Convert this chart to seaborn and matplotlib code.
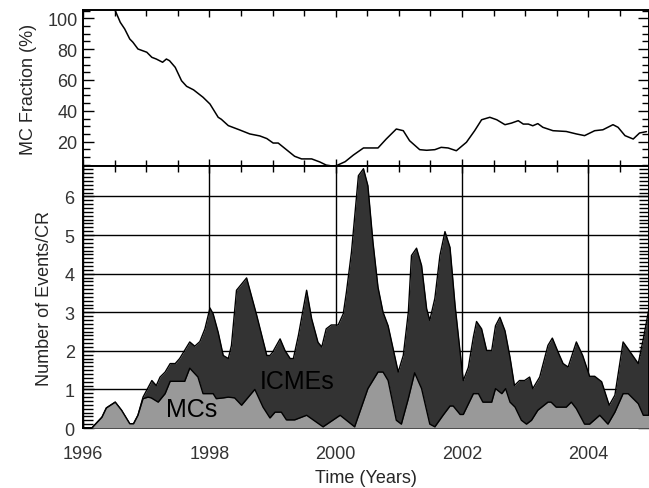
import numpy as np
import pandas as pd
import matplotlib
matplotlib.use("Agg")
import matplotlib.pyplot as plt
import seaborn as sns
from matplotlib.ticker import MultipleLocator

# ---------------- data ----------------
frac_years = [1996.50, 1996.59, 1996.66, 1996.74, 1996.79, 1996.87, 1997.01, 1997.09, 1997.16, 1997.26,
              1997.32, 1997.37, 1997.46, 1997.56, 1997.64, 1997.75, 1997.90, 1998.01, 1998.14, 1998.19,
              1998.30, 1998.48, 1998.64, 1998.80, 1998.91, 1999.01, 1999.09, 1999.22, 1999.35, 1999.46,
              1999.62, 1999.75, 1999.85, 1999.93, 2000.01, 2000.15, 2000.28, 2000.44, 2000.67, 2000.80,
              2000.96, 2001.07, 2001.17, 2001.33, 2001.44, 2001.57, 2001.67, 2001.78, 2001.91, 2002.07,
              2002.20, 2002.31, 2002.44, 2002.55, 2002.68, 2002.78, 2002.89, 2002.97, 2003.05, 2003.12,
              2003.20, 2003.28, 2003.44, 2003.65, 2003.81, 2003.94, 2004.10, 2004.23, 2004.39, 2004.47,
              2004.58, 2004.71, 2004.81, 2004.92]
frac_values = [106.0, 97.4, 93.1, 86.6, 84.5, 80.1, 78.0, 74.7, 73.6, 71.5,
               73.6, 72.5, 68.2, 59.5, 55.9, 53.6, 48.8, 44.4, 35.8, 34.5,
               30.4, 27.6, 25.0, 23.7, 22.0, 19.1, 19.1, 14.8, 10.5, 8.8,
               8.8, 6.8, 4.8, 4.3, 4.4, 7.0, 11.3, 15.9, 15.9, 21.7,
               28.2, 27.1, 20.6, 14.8, 14.4, 14.8, 16.3, 15.9, 14.1, 19.6,
               27.1, 34.2, 35.8, 34.2, 31.0, 32.0, 33.6, 31.4, 31.4, 30.3,
               31.7, 29.3, 27.1, 26.6, 25.0, 23.9, 27.1, 27.7, 31.0, 29.3,
               23.9, 21.7, 25.6, 26.5]

mc_years = [1996.00, 1996.14, 1996.30, 1996.37, 1996.51, 1996.61, 1996.74, 1996.80, 1996.87, 1996.95,
            1997.03, 1997.08, 1997.19, 1997.30, 1997.38, 1997.61, 1997.69, 1997.82, 1997.90, 1998.06,
            1998.11, 1998.22, 1998.30, 1998.40, 1998.51, 1998.72, 1998.85, 1998.96, 1999.04, 1999.14,
            1999.22, 1999.35, 1999.54, 1999.80, 2000.07, 2000.30, 2000.51, 2000.67, 2000.75, 2000.83,
            2000.96, 2001.04, 2001.15, 2001.25, 2001.36, 2001.49, 2001.57, 2001.70, 2001.81, 2001.86,
            2001.97, 2002.02, 2002.18, 2002.26, 2002.33, 2002.47, 2002.53, 2002.63, 2002.69, 2002.76,
            2002.84, 2002.94, 2003.02, 2003.10, 2003.20, 2003.36, 2003.41, 2003.49, 2003.65, 2003.73,
            2003.81, 2003.94, 2004.02, 2004.18, 2004.31, 2004.42, 2004.55, 2004.63, 2004.79, 2004.87,
            2004.96]
mc_counts = [0.0, 0.0, 0.28, 0.52, 0.67, 0.46, 0.11, 0.11, 0.33, 0.76,
             0.80, 0.78, 0.67, 0.89, 1.21, 1.21, 1.55, 1.32, 0.89, 0.89,
             0.76, 0.78, 0.80, 0.78, 0.59, 1.00, 0.54, 0.26, 0.41, 0.41,
             0.21, 0.21, 0.33, 0.03, 0.33, 0.03, 1.02, 1.45, 1.45, 1.23,
             0.20, 0.10, 0.76, 1.43, 1.02, 0.10, 0.03, 0.33, 0.57, 0.57,
             0.35, 0.35, 0.89, 0.89, 0.67, 0.67, 1.02, 0.89, 1.02, 0.67,
             0.54, 0.20, 0.10, 0.20, 0.46, 0.67, 0.67, 0.54, 0.54, 0.67,
             0.50, 0.10, 0.10, 0.33, 0.10, 0.41, 0.89, 0.89, 0.63, 0.33,
             0.33]

icme_years = [1996.00, 1996.14, 1996.30, 1996.37, 1996.51, 1996.61, 1996.74, 1996.80, 1996.87, 1996.95,
              1997.09, 1997.16, 1997.22, 1997.30, 1997.38, 1997.46, 1997.53, 1997.69, 1997.77, 1997.85,
              1997.93, 1998.01, 1998.06, 1998.14, 1998.22, 1998.30, 1998.35, 1998.43, 1998.59, 1998.75,
              1998.91, 1998.96, 1999.00, 1999.12, 1999.20, 1999.28, 1999.33, 1999.41, 1999.54, 1999.62,
              1999.72, 1999.78, 1999.85, 1999.93, 2000.04, 2000.12, 2000.17, 2000.25, 2000.36, 2000.44,
              2000.51, 2000.59, 2000.67, 2000.75, 2000.83, 2000.91, 2000.99, 2001.07, 2001.15, 2001.20,
              2001.28, 2001.36, 2001.44, 2001.49, 2001.57, 2001.65, 2001.73, 2001.81, 2001.89, 2001.97,
              2002.02, 2002.10, 2002.18, 2002.23, 2002.31, 2002.39, 2002.47, 2002.53, 2002.60, 2002.68,
              2002.76, 2002.83, 2002.91, 2002.99, 2003.07, 2003.12, 2003.23, 2003.36, 2003.43, 2003.52,
              2003.60, 2003.68, 2003.81, 2003.91, 2004.02, 2004.10, 2004.21, 2004.33, 2004.42, 2004.55,
              2004.65, 2004.79, 2004.87, 2004.96]
icme_counts = [0.0, 0.0, 0.28, 0.52, 0.67, 0.46, 0.11, 0.11, 0.33, 0.80,
               1.23, 1.10, 1.32, 1.45, 1.67, 1.67, 1.80, 2.23, 2.12, 2.24,
               2.57, 3.11, 2.96, 2.48, 1.88, 1.80, 2.14, 3.57, 3.89, 2.92,
               1.88, 1.88, 1.96, 2.31, 2.00, 1.80, 1.80, 2.40, 3.57, 2.83,
               2.22, 2.10, 2.57, 2.67, 2.67, 2.96, 3.52, 4.56, 6.54, 6.72,
               6.28, 4.82, 3.65, 3.00, 2.65, 2.05, 1.45, 1.88, 3.00, 4.47,
               4.66, 4.21, 3.09, 2.79, 3.36, 4.47, 5.09, 4.68, 3.18, 1.97,
               1.23, 1.57, 2.36, 2.76, 2.57, 2.01, 2.01, 2.65, 2.87, 2.52,
               1.83, 1.10, 1.23, 1.23, 1.32, 1.02, 1.32, 2.14, 2.33, 1.97,
               1.67, 1.58, 2.23, 1.88, 1.34, 1.34, 1.20, 0.59, 0.85, 2.23,
               2.00, 1.67, 2.31, 3.10]

year_ticks = [1996, 1998, 2000, 2002, 2004]
x_min, x_max = 1996.0, 2004.96

frac_df = pd.DataFrame({"year": frac_years, "fraction": frac_values})
mc_df = pd.DataFrame({"year": mc_years, "count": mc_counts})
icme_df = pd.DataFrame({"year": icme_years, "count": icme_counts})

# ---------------- style ----------------
sns.set_theme(style="white")
plt.rcParams["font.family"] = ["Liberation Sans", "DejaVu Sans"]
plt.rcParams["axes.linewidth"] = 1.4
plt.rcParams["text.color"] = "#333333"
plt.rcParams["xtick.color"] = "black"
plt.rcParams["ytick.color"] = "black"
plt.rcParams["xtick.labelcolor"] = "#333333"
plt.rcParams["ytick.labelcolor"] = "#333333"

FS = 13

fig = plt.figure(figsize=(6.49, 4.89), dpi=100)
W, H = 649, 489
left = 83 / W
width = 1 - left
ax_top = fig.add_axes([left, 1 - 167 / H, width, (167 - 11) / H])
ax_bot = fig.add_axes([left, 1 - 429 / H, width, (429 - 167) / H])

for ax in (ax_top, ax_bot):
    for s in ax.spines.values():
        s.set_color("black")
        s.set_linewidth(1.4)
    ax.set_xlim(x_min, x_max)
    ax.xaxis.set_major_locator(MultipleLocator(2))
    ax.xaxis.set_minor_locator(MultipleLocator(0.5))
    ax.tick_params(axis="both", which="both", direction="in", top=True, right=True,
                   bottom=True, left=True, width=1.0)
    ax.tick_params(axis="x", which="major", length=5)
    ax.tick_params(axis="x", which="minor", length=4)

# ---- top panel ----
sns.lineplot(data=frac_df, x="year", y="fraction", ax=ax_top, color="black", linewidth=1.1,
             estimator=None, sort=False)
ax_top.set_ylim(4.2, 105.4)
ax_top.yaxis.set_major_locator(MultipleLocator(20))
ax_top.yaxis.set_minor_locator(MultipleLocator(5))
ax_top.tick_params(axis="y", which="major", length=8, labelsize=FS, pad=4)
ax_top.tick_params(axis="y", which="minor", length=5)
ax_top.set_xticklabels([])
ax_top.set_xlabel("")
ax_top.set_ylabel("MC Fraction (%)", fontsize=FS, labelpad=7)

# ---- bottom panel ----
ax_bot.set_ylim(0, 6.79)
ax_bot.yaxis.set_major_locator(MultipleLocator(1))
ax_bot.yaxis.set_minor_locator(MultipleLocator(0.1))
ax_bot.tick_params(axis="y", which="major", length=8, labelsize=FS, pad=6)
ax_bot.tick_params(axis="y", which="minor", length=7, width=1.0)
ax_bot.tick_params(axis="x", which="major", labelsize=FS, pad=12)
ax_bot.grid(True, which="major", color="black", linewidth=1.0, zorder=0)
ax_bot.set_axisbelow(True)

ax_bot.fill_between(icme_df["year"], 0, icme_df["count"], color="#333333", zorder=2, linewidth=0)
sns.lineplot(data=icme_df, x="year", y="count", ax=ax_bot, color="black", linewidth=1.0,
             estimator=None, sort=False, zorder=3)
ax_bot.fill_between(mc_df["year"], 0, mc_df["count"], color="#999999", zorder=4, linewidth=0)
sns.lineplot(data=mc_df, x="year", y="count", ax=ax_bot, color="black", linewidth=1.0,
             estimator=None, sort=False, zorder=5)

ax_bot.set_xticks(year_ticks)
ax_bot.set_xticklabels([str(y) for y in year_ticks])
ax_bot.set_xlim(x_min, x_max)
ax_bot.set_xlabel("Time (Years)", fontsize=FS, labelpad=5.5)
ax_bot.set_ylabel("Number of Events/CR", fontsize=FS, labelpad=8)

ax_bot.text(1998.80, 1.23, "ICMEs", fontsize=18, color="black", va="center", ha="left", zorder=6)
ax_bot.text(1997.32, 0.48, "MCs", fontsize=18, color="black", va="center", ha="left", zorder=6)

fig.savefig("out.png", dpi=100)
